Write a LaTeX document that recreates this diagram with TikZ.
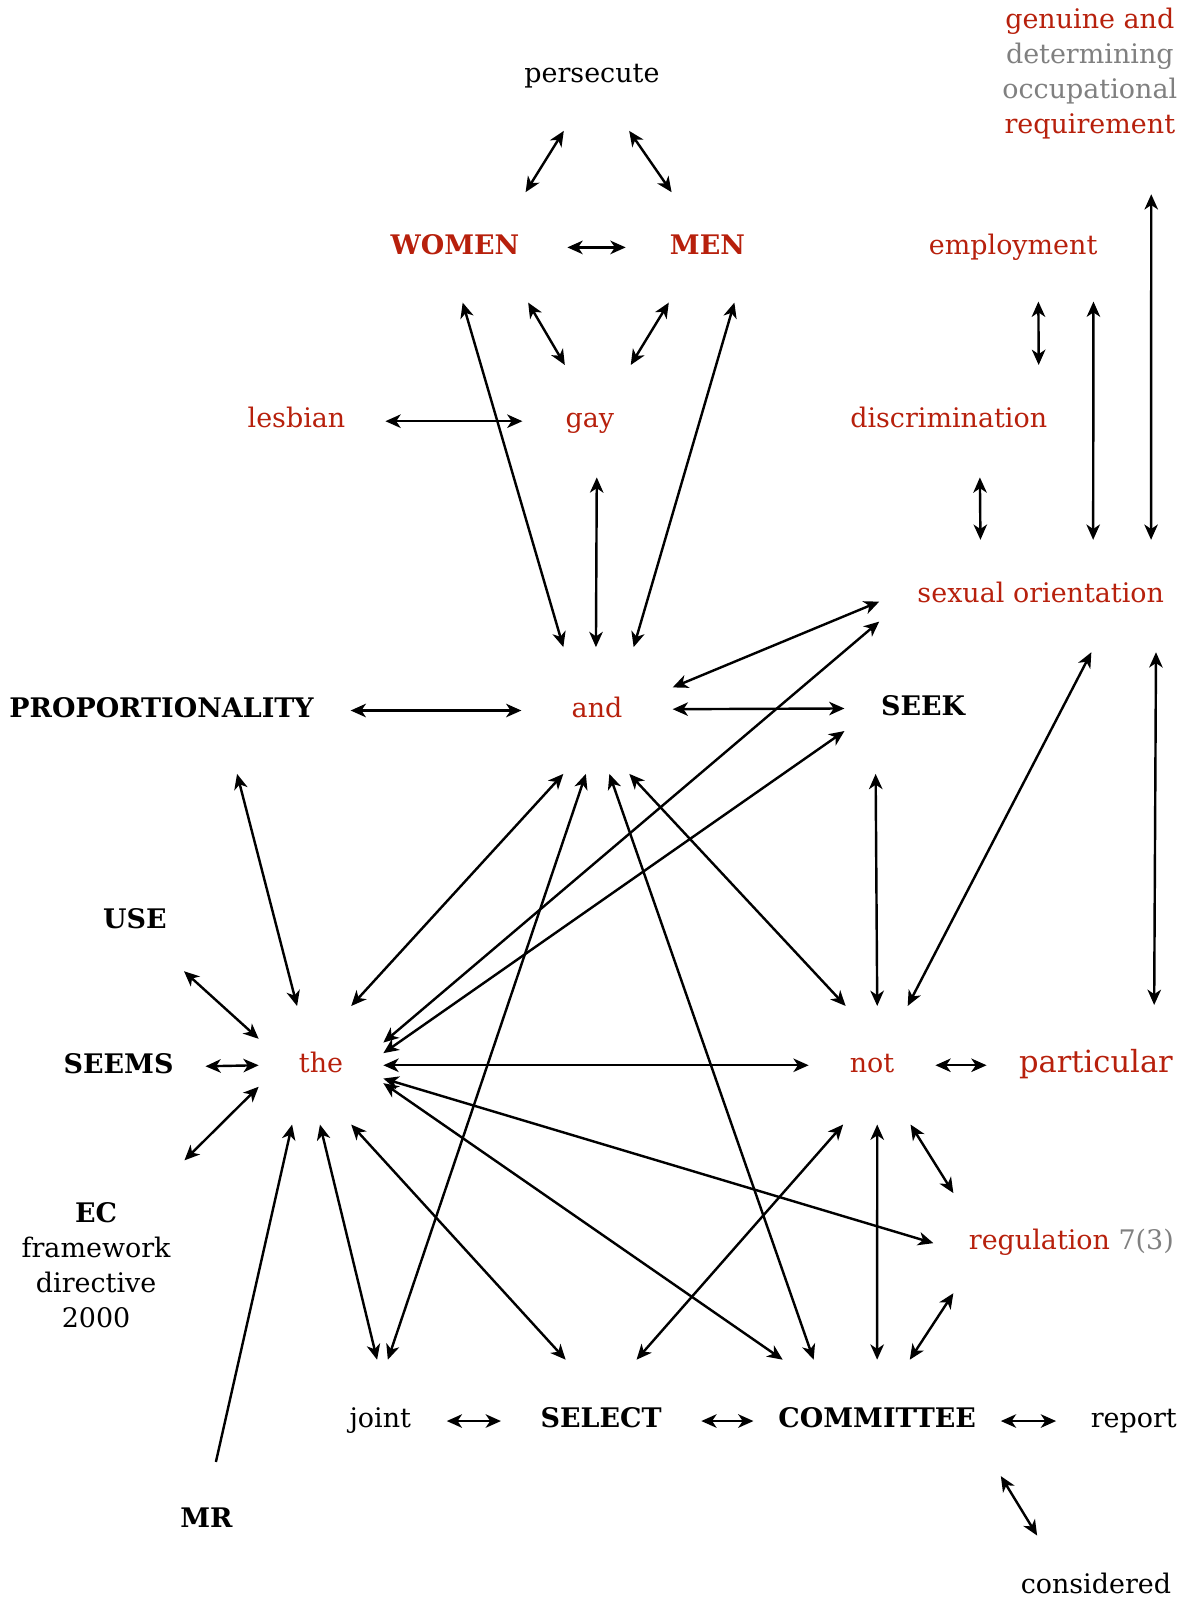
\documentclass[tikz,border=0pt]{standalone}
\usepackage{fontspec}
\setmainfont{DejaVu Serif}
\usetikzlibrary{arrows.meta}
\definecolor{termred}{RGB}{183,32,12}
\definecolor{termgrey}{RGB}{128,128,128}
\begin{document}
\begin{tikzpicture}[x=0.02cm,y=-0.02cm,
    >={Stealth[length=8.5pt,width=7.5pt,inset=2.5pt]},
    every node/.style={inner sep=0pt,outer sep=0pt,font=\fontsize{15}{19.5}\selectfont,text height=11pt,text depth=3.5pt},
    term/.style={text=termred},
    key/.style={font=\fontsize{15}{19.5}\selectfont\bfseries},
    link/.style={<->,line width=1.35pt}]
    \useasboundingbox (0,0) rectangle (1171,1568);
    \node[minimum width=3.2cm,minimum height=2.16cm] (persecute) at (579,74) {persecute};
    \node[align=center,text height={},text depth={},minimum width=3.8cm,minimum height=4.72cm] (genuine) at (1066,72) {\textcolor{termred}{genuine and}\\\textcolor{termgrey}{determining}\\\textcolor{termgrey}{occupational}\\\textcolor{termred}{requirement}};
    \node[key,term,minimum width=4.4cm,minimum height=2.16cm] (WOMEN) at (445,242) {WOMEN};
    \node[key,term,minimum width=3.2cm,minimum height=2.16cm] (MEN) at (692,242) {MEN};
    \node[term,minimum width=4cm,minimum height=2.12cm] (employment) at (991,242) {employment};
    \node[term,minimum width=3.48cm,minimum height=1.2cm] (lesbian) at (290,412) {lesbian};
    \node[term,minimum width=2.64cm,minimum height=2.2cm] (gay) at (577,412) {gay};
    \node[term,minimum width=4.4cm,minimum height=2.2cm] (discrimination) at (928,412) {discrimination};
    \node[term,minimum width=6.32cm,minimum height=2.2cm] (sexual) at (1018,583) {sexual orientation};
    \node[key,minimum width=7.4cm,minimum height=2.48cm] (PROPORTIONALITY) at (158,695) {PROPORTIONALITY};
    \node[term,minimum width=2.96cm,minimum height=2.48cm] (and) at (584,695) {and};
    \node[key,minimum width=3.08cm,minimum height=2.56cm] (SEEK) at (903,693) {SEEK};
    \node[key,minimum width=2.4cm,minimum height=1.92cm] (USE) at (132,902) {USE};
    \node[key,minimum width=3.4cm,minimum height=1.2cm] (SEEMS) at (116,1043) {SEEMS};
    \node[term,minimum width=2.44cm,minimum height=2.32cm] (the) at (314,1042) {the};
    \node[term,minimum width=2.48cm,minimum height=2.32cm] (not) at (853,1042) {not};
    \node[term,font=\fontsize{17}{20}\selectfont,minimum width=4.28cm,minimum height=2.36cm] (particular) at (1072,1042) {particular};
    \node[align=center,text height={},text depth={},minimum width=4cm,minimum height=4.12cm] (EC) at (94,1238) {\textbf{EC}\\framework\\directive\\2000};
    \node[term,minimum width=5.4cm,minimum height=1.96cm] (regulation) at (1048,1216) {regulation \textcolor{termgrey}{7(3)}};
    \node[key,minimum width=1.6cm,minimum height=2.32cm] (MR) at (202,1488) {MR};
    \node[minimum width=2.6cm,minimum height=2.4cm] (joint) at (372,1390) {joint};
    \node[key,minimum width=3.92cm,minimum height=2.4cm] (SELECT) at (588,1390) {SELECT};
    \node[key,minimum width=4.84cm,minimum height=2.4cm] (COMMITTEE) at (858,1390) {COMMITTEE};
    \node[minimum width=3.04cm,minimum height=1.2cm] (report) at (1109,1390) {report};
    \node[minimum width=3.2cm,minimum height=2cm] (considered) at (1072,1552) {considered};
    \draw[link] (persecute.243.4) -- (WOMEN.38.5);
    \draw[link] (persecute.-56.3) -- (MEN.123.7);
    \draw[link] (WOMEN.0) -- (MEN.180);
    \draw[link] (WOMEN.-37.9) -- (gay.114.8);
    \draw[link] (MEN.235.8) -- (gay.54.9);
    \draw[link] (WOMEN.-82.5) -- (and.118.8);
    \draw[link] (MEN.-64.7) -- (and.60.5);
    \draw[link] (lesbian.0) -- (gay.180);
    \draw[link] (gay.-83.5) -- (and.91);
    \draw[link] (employment.-65.6) -- (discrimination.32.3);
    \draw[link] (employment.-34.5) -- (sexual.47.7);
    \draw[link] (genuine.-63) -- (sexual.27);
    \draw[link] (discrimination.-61.4) -- (sexual.137.5);
    \draw[link] (sexual.182.6) -- (and.17.3);
    \draw[link] (sexual.189) -- (the.20.8);
    \draw[link] (sexual.-48.4) -- (not.59.3);
    \draw[link] (sexual.-26.5) -- (particular.46.5);
    \draw[link] (PROPORTIONALITY.0) -- (and.180);
    \draw[link] (and.1.5) -- (SEEK.180);
    \draw[link] (SEEK.196) -- (the.11.7);
    \draw[link] (SEEK.234.9) -- (not.85.2);
    \draw[link] (PROPORTIONALITY.-40.8) -- (the.112.1);
    \draw[link] (and.-118) -- (the.63.8);
    \draw[link] (and.-100.95) -- (joint.83.3);
    \draw[link] (and.-79.05) -- (COMMITTEE.136.3);
    \draw[link] (and.-63.4) -- (not.114.6);
    \draw[link] (USE.-45.6) -- (the.157.4);
    \draw[link] (SEEMS.0) -- (the.180);
    \draw[link] (EC.50.5) -- (the.199.3);
    \draw[->,line width=1.35pt] (MR.81.3) -- (the.244.7);
    \draw[link] (the.0) -- (not.180);
    \draw[link] (not.0) -- (particular.180);
    \draw[link] (the.269) -- (joint.93.8);
    \draw[link] (the.-63) -- (SELECT.120.6);
    \draw[link] (the.-16.4) -- (COMMITTEE.147.9);
    \draw[link] (the.-12) -- (regulation.180);
    \draw[link] (not.244.7) -- (SELECT.60.5);
    \draw[link] (not.-85) -- (COMMITTEE.90);
    \draw[link] (not.-57.7) -- (regulation.157.3);
    \draw[link] (COMMITTEE.62.5) -- (regulation.203.5);
    \draw[link] (joint.0) -- (SELECT.180);
    \draw[link] (SELECT.0) -- (COMMITTEE.180);
    \draw[link] (COMMITTEE.0) -- (report.180);
    \draw[link] (COMMITTEE.-24) -- (considered.139.7);
\end{tikzpicture}
\end{document}
